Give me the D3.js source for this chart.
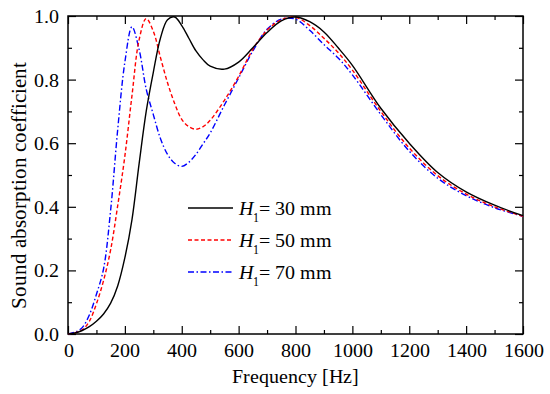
<!DOCTYPE html>
<html><head><meta charset="utf-8">
<script src="https://cdn.jsdelivr.net/npm/d3@7"></script>
<style>
@font-face{font-family:'ChartSerif';src:local('Liberation Serif'),local('LiberationSerif'),local('LiberationSerif-Regular');font-style:normal;font-weight:400;}
@font-face{font-family:'ChartSerif';src:local('Liberation Serif Italic'),local('LiberationSerif-Italic');font-style:italic;font-weight:400;}
body{margin:0;background:#fff;font-family:'Liberation Serif'}
</style>
</head><body>
<svg id="c" width="550" height="394" font-family="Liberation Serif"></svg>
<script>
// ---- data ----
const freq = [0,25,50,75,100,125,150,175,200,225,250,275,300,325,350,375,400,425,450,475,500,550,600,650,700,750,800,850,900,950,1000,1100,1200,1300,1400,1500,1600];
const h30 = [0,0.003,0.011,0.023,0.04,0.063,0.097,0.152,0.24,0.36,0.535,0.70,0.823,0.93,0.988,0.997,0.97,0.93,0.89,0.862,0.842,0.833,0.855,0.90,0.948,0.985,0.997,0.982,0.95,0.90,0.845,0.71,0.60,0.508,0.447,0.405,0.372];
const h50 = [0,0.004,0.013,0.04,0.095,0.168,0.265,0.405,0.56,0.75,0.925,0.992,0.952,0.87,0.79,0.725,0.675,0.652,0.644,0.652,0.672,0.735,0.81,0.895,0.955,0.988,0.996,0.97,0.93,0.885,0.83,0.70,0.585,0.498,0.44,0.40,0.37];
const h70 = [0,0.006,0.02,0.06,0.125,0.205,0.39,0.645,0.855,0.966,0.895,0.77,0.69,0.615,0.565,0.537,0.527,0.54,0.565,0.598,0.632,0.72,0.805,0.89,0.958,0.99,0.99,0.955,0.91,0.868,0.815,0.69,0.575,0.49,0.435,0.397,0.37];
const seriesLabels = ["= 30 mm","= 50 mm","= 70 mm"];
const xTicks = [0,200,400,600,800,1000,1200,1400,1600];
const xMinor = [100,300,500,700,900,1100,1300,1500];
const yTicks = [0,0.2,0.4,0.6,0.8,1.0];
const yMinor = [0.1,0.3,0.5,0.7,0.9];
const xTitle = "Frequency [Hz]";
const yTitle = "Sound absorption coefficient";

// ---- layout ----
const W = 550, H = 394;
const m = {l:68, r:27, t:16, b:60};
const iw = W - m.l - m.r, ih = H - m.t - m.b;
const svg = d3.select("#c");
const g = svg.append("g").attr("transform",`translate(${m.l},${m.t})`);
const x = d3.scaleLinear().domain([0,1600]).range([0,iw]);
const y = d3.scaleLinear().domain([0,1]).range([ih,0]);

function txt(sel, size){
  return sel.style("font-family","'ChartSerif','Liberation Serif'").style("font-size",size+"px");
}
function styleAxis(sel){
  sel.attr("font-family",null).attr("font-size",null);
  sel.select(".domain").remove();
  sel.selectAll("line").attr("stroke","#000").attr("stroke-width",1.2);
  txt(sel.selectAll("text"),20).attr("fill","#000");
}
// bottom
g.append("g").attr("transform",`translate(0,${ih})`)
 .call(d3.axisBottom(x).tickValues(xTicks).tickFormat(d3.format("d")).tickSize(-8).tickPadding(9)).call(styleAxis);
g.append("g").attr("transform",`translate(0,${ih})`)
 .call(d3.axisBottom(x).tickValues(xMinor).tickFormat("").tickSize(-4)).call(styleAxis);
// top
g.append("g").call(d3.axisTop(x).tickValues(xTicks).tickFormat("").tickSize(-8)).call(styleAxis);
g.append("g").call(d3.axisTop(x).tickValues(xMinor).tickFormat("").tickSize(-4)).call(styleAxis);
// left
g.append("g").call(d3.axisLeft(y).tickValues(yTicks).tickFormat(d3.format(".1f")).tickSize(-8).tickPadding(9)).call(styleAxis);
g.append("g").call(d3.axisLeft(y).tickValues(yMinor).tickFormat("").tickSize(-4)).call(styleAxis);
// right
g.append("g").attr("transform",`translate(${iw},0)`).call(d3.axisRight(y).tickValues(yTicks).tickFormat("").tickSize(-8)).call(styleAxis);
g.append("g").attr("transform",`translate(${iw},0)`).call(d3.axisRight(y).tickValues(yMinor).tickFormat("").tickSize(-4)).call(styleAxis);

// frame
g.append("rect").attr("x",0).attr("y",0).attr("width",iw).attr("height",ih)
 .attr("fill","none").attr("stroke","#000").attr("stroke-width",1.5);

// curves
const series = [
  {vals:h30, color:"#000000", dash:null},
  {vals:h50, color:"#ff0000", dash:"4,2.5"},
  {vals:h70, color:"#0000ff", dash:"6,2.5,1.5,2.5"}
];
const line = d3.line().x(d=>x(d[0])).y(d=>y(d[1])).curve(d3.curveCatmullRom.alpha(0.5));
series.slice().reverse().forEach(s=>{
  g.append("path").datum(freq.map((f,i)=>[f,s.vals[i]]))
   .attr("d",line).attr("fill","none").attr("stroke",s.color).attr("stroke-width",1.4)
   .attr("stroke-dasharray",s.dash);
});

// legend
const legY = [208,240,272];
series.forEach((s,i)=>{
  const yy = legY[i];
  svg.append("line").attr("x1",188).attr("x2",233).attr("y1",yy).attr("y2",yy)
   .attr("stroke",s.color).attr("stroke-width",1.4).attr("stroke-dasharray",s.dash);
  const t = txt(svg.append("text").attr("x",239).attr("y",yy+7),20);
  t.append("tspan").text("H").style("font-style","italic");
  t.append("tspan").text("1").attr("dy",7).style("font-size","12px");
  t.append("tspan").text(seriesLabels[i]).attr("dy",-7);
});

// axis titles
txt(svg.append("text").attr("x",m.l+iw/2).attr("y",383).attr("text-anchor","middle"),20).text(xTitle);
txt(svg.append("text").attr("transform",`translate(26,185) rotate(-90)`).attr("text-anchor","middle"),21).text(yTitle);
</script>
</body></html>
